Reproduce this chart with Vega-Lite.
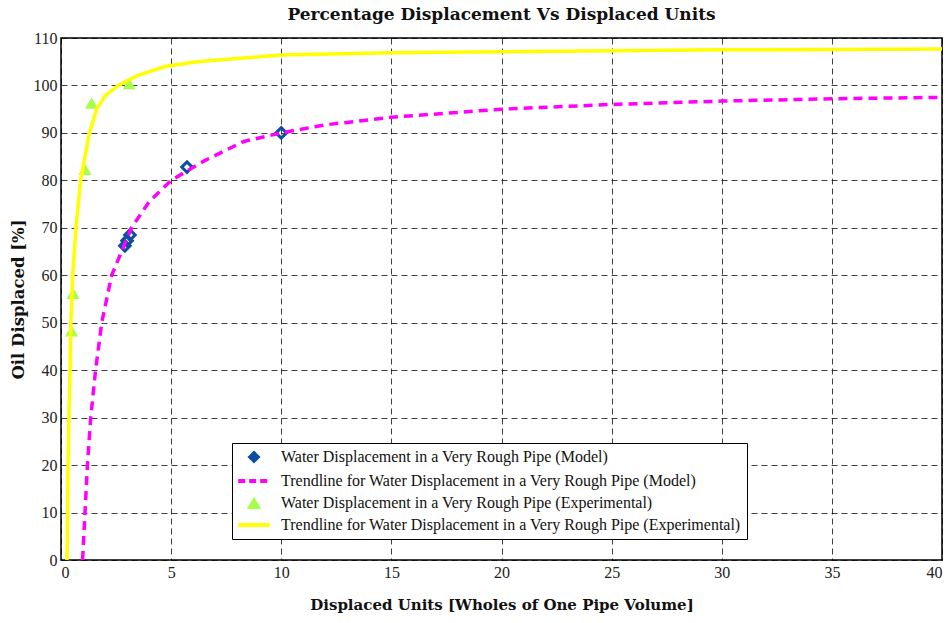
{
  "$schema": "https://vega.github.io/schema/vega-lite/v6.json",
  "width": 881,
  "height": 522,
  "autosize": {"type": "none"},
  "padding": {"left": 61, "top": 38, "right": 9, "bottom": 63},
  "background": "white",
  "title": {"text": "Percentage Displacement Vs Displaced Units", "font": "DejaVu Serif", "fontSize": 17, "fontWeight": "bold", "color": "#111", "anchor": "middle", "offset": 6},
  "config": {
    "view": {"stroke": "#000", "strokeWidth": 1.5},
    "axis": {"labelFont": "Liberation Serif", "labelFontSize": 16, "labelColor": "#222", "titleFont": "DejaVu Serif", "titleFontWeight": "bold", "titleColor": "#111", "grid": true, "gridColor": "#000", "gridDash": [6, 4], "gridOpacity": 0.75, "gridWidth": 1, "domain": false, "ticks": false}
  },
  "data": {"values": [
    {"s": "A", "x": 2.9, "y": 66.2},
    {"s": "A", "x": 3.0, "y": 67.3},
    {"s": "A", "x": 3.13, "y": 68.5},
    {"s": "A", "x": 5.72, "y": 82.8},
    {"s": "A", "x": 10.0, "y": 90.0},
    {"s": "C", "x": 0.48, "y": 48.3},
    {"s": "C", "x": 0.55, "y": 56.2},
    {"s": "C", "x": 1.09, "y": 82.3},
    {"s": "C", "x": 1.39, "y": 96.3},
    {"s": "C", "x": 3.1, "y": 100.4},
    {"s": "B", "x": 0.98, "y": 0},
    {"s": "B", "x": 1.09, "y": 10},
    {"s": "B", "x": 1.2, "y": 20},
    {"s": "B", "x": 1.35, "y": 30},
    {"s": "B", "x": 1.57, "y": 40},
    {"s": "B", "x": 1.85, "y": 50},
    {"s": "B", "x": 2.3, "y": 60},
    {"s": "B", "x": 3.2, "y": 70},
    {"s": "B", "x": 4.0, "y": 75.5},
    {"s": "B", "x": 5.0, "y": 80},
    {"s": "B", "x": 6.5, "y": 84.1},
    {"s": "B", "x": 8.3, "y": 88.2},
    {"s": "B", "x": 10, "y": 90},
    {"s": "B", "x": 12, "y": 91.7},
    {"s": "B", "x": 15, "y": 93.3},
    {"s": "B", "x": 20, "y": 95},
    {"s": "B", "x": 25, "y": 96},
    {"s": "B", "x": 30, "y": 96.7},
    {"s": "B", "x": 35, "y": 97.2},
    {"s": "B", "x": 40, "y": 97.5},
    {"s": "D", "x": 0.27, "y": 0},
    {"s": "D", "x": 0.3, "y": 10},
    {"s": "D", "x": 0.32, "y": 20},
    {"s": "D", "x": 0.36, "y": 30},
    {"s": "D", "x": 0.41, "y": 40},
    {"s": "D", "x": 0.45, "y": 50},
    {"s": "D", "x": 0.53, "y": 60},
    {"s": "D", "x": 0.68, "y": 70},
    {"s": "D", "x": 0.89, "y": 80},
    {"s": "D", "x": 1.29, "y": 90},
    {"s": "D", "x": 1.62, "y": 95},
    {"s": "D", "x": 2.0, "y": 97.8},
    {"s": "D", "x": 2.6, "y": 100},
    {"s": "D", "x": 3.43, "y": 102},
    {"s": "D", "x": 4.72, "y": 104},
    {"s": "D", "x": 6.16, "y": 105},
    {"s": "D", "x": 8.88, "y": 106},
    {"s": "D", "x": 10, "y": 106.4},
    {"s": "D", "x": 15, "y": 106.9},
    {"s": "D", "x": 20, "y": 107.1},
    {"s": "D", "x": 25, "y": 107.3},
    {"s": "D", "x": 30, "y": 107.5},
    {"s": "D", "x": 35, "y": 107.6},
    {"s": "D", "x": 40, "y": 107.7}
  ]},
  "encoding": {
    "x": {"field": "x", "type": "quantitative", "scale": {"domain": [0, 40], "nice": false, "zero": false}, "axis": {"values": [0, 5, 10, 15, 20, 25, 30, 35, 40], "labelPadding": 4, "titlePadding": 17, "titleFontSize": 15, "title": "Displaced Units [Wholes of One Pipe Volume]"}},
    "y": {"field": "y", "type": "quantitative", "scale": {"domain": [0, 110], "nice": false}, "axis": {"values": [0, 10, 20, 30, 40, 50, 60, 70, 80, 90, 100, 110], "labelPadding": 4, "titlePadding": 7, "titleFontSize": 16.5, "title": "Oil Displaced [%]"}},
    "color": {"field": "s", "type": "nominal", "scale": {"domain": ["A", "B", "C", "D"], "range": ["#0b4fa0", "#ff00ff", "#a6ff4d", "#ffff00"]},
      "legend": {
        "orient": "none", "legendX": 171, "legendY": 405, "title": null,
        "strokeColor": "#000", "fillColor": "#fff", "padding": 6,
        "labelFont": "Liberation Serif", "labelFontSize": 16, "labelColor": "#111", "labelLimit": 0,
        "symbolSize": 1000, "rowPadding": 6, "symbolOffset": 8, "labelOffset": 19,
        "labelExpr": "datum.value == 'A' ? 'Water Displacement in a Very Rough Pipe (Model)' : datum.value == 'B' ? 'Trendline for Water Displacement in a Very Rough Pipe (Model)' : datum.value == 'C' ? 'Water Displacement in a Very Rough Pipe (Experimental)' : 'Trendline for Water Displacement in a Very Rough Pipe (Experimental)'",
        "encode": {"symbols": {"update": {
          "shape": {"signal": "datum.value == 'A' ? 'diamond' : datum.value == 'C' ? 'triangle-up' : 'stroke'"},
          "size": {"signal": "datum.value == 'A' ? 90 : datum.value == 'C' ? 170 : 1000"},
          "fill": {"signal": "datum.value == 'A' ? '#dfe9f5' : datum.value == 'C' ? '#a6ff4d' : 'transparent'"},
          "stroke": {"signal": "datum.value == 'A' ? '#0b4fa0' : datum.value == 'C' ? '#a6ff4d' : datum.value == 'B' ? '#ff00ff' : '#ffff00'"},
          "strokeWidth": {"signal": "datum.value == 'A' ? 2.5 : datum.value == 'C' ? 1 : 4"},
          "strokeDash": {"signal": "datum.value == 'B' ? [7, 4] : [1, 0]"},
          "opacity": {"value": 1}
        }}}
      }}
  },
  "layer": [
    {"transform": [{"filter": "datum.s == 'C'"}], "mark": {"type": "point", "shape": "triangle-up", "filled": true, "size": 170, "opacity": 1}},
    {"transform": [{"filter": "datum.s == 'A'"}], "mark": {"type": "point", "shape": "diamond", "filled": false, "strokeWidth": 3, "size": 110, "opacity": 1}},
    {"transform": [{"filter": "datum.s == 'D'"}], "mark": {"type": "line", "strokeWidth": 3.5}},
    {"transform": [{"filter": "datum.s == 'B'"}], "mark": {"type": "line", "strokeWidth": 3.5, "strokeDash": [9, 6]}}
  ]
}
